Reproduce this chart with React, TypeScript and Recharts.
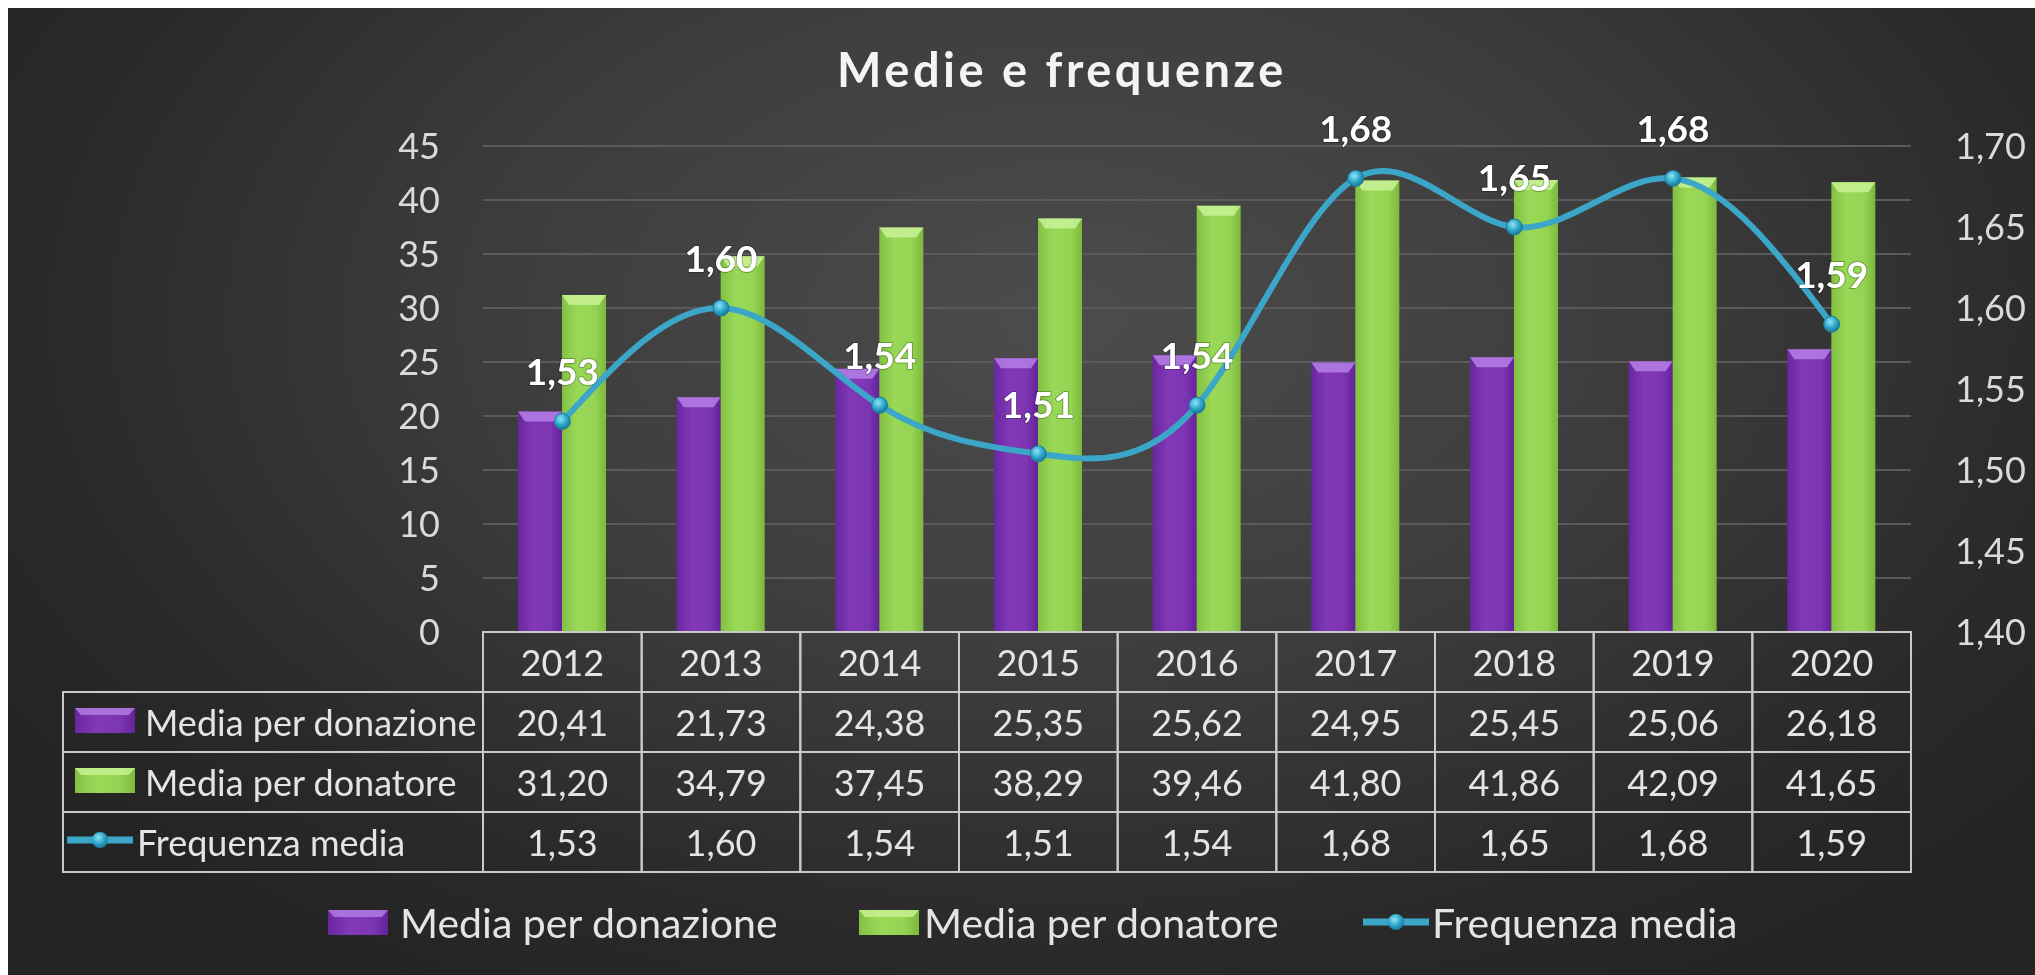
import { Bar, CartesianGrid, ComposedChart, LabelList, Line, XAxis, YAxis } from "recharts";

// dati
const years = ["2012", "2013", "2014", "2015", "2016", "2017", "2018", "2019", "2020"];
const mediaDonazione = [20.41, 21.73, 24.38, 25.35, 25.62, 24.95, 25.45, 25.06, 26.18];
const mediaDonatore = [31.2, 34.79, 37.45, 38.29, 39.46, 41.8, 41.86, 42.09, 41.65];
const frequenzaMedia = [1.53, 1.6, 1.54, 1.51, 1.54, 1.68, 1.65, 1.68, 1.59];
const leftTicks = [0, 5, 10, 15, 20, 25, 30, 35, 40, 45];
const rightTicks = [1.4, 1.45, 1.5, 1.55, 1.6, 1.65, 1.7];
const seriesNames = ["Media per donazione", "Media per donatore", "Frequenza media"];
const title = "Medie e frequenze";

// niente barre di scorrimento: il grafico riempie la finestra
if (typeof document !== "undefined") {
  document.documentElement.style.overflow = "hidden";
  document.body.style.overflow = "hidden";
}

const data = years.map((year, i) => ({
  year,
  donazione: mediaDonazione[i],
  donatore:  mediaDonatore[i],
  frequenza: frequenzaMedia[i],
}));

const W = 2027;
const H = 967;
const PLOT_L = 475;
const PLOT_R = 1903;
const PLOT_T = 138;
const PLOT_B = 624;
const COL_W = (PLOT_R - PLOT_L) / years.length;
const ROW_H = 60;
const LABEL_W = 420;
const FONT = "Lato, 'Open Sans', sans-serif";
const TXT = "#e4e4e4";
const BORDER = "#c9c9c9";
const LINE_C = "#3ba6c8";

const fmt = (v: number) => v.toFixed(2).replace(".", ",");

const rows = [mediaDonazione, mediaDonatore, frequenzaMedia];

function Swatch({ kind, x, y }: { kind: number; x: number; y: number }) {
  if (kind === 2) {
    return (
      <g>
        <line x1={x} x2={x + 66} y1={y} y2={y} stroke={LINE_C} strokeWidth={7} />
        <circle cx={x + 33} cy={y} r={8} fill="url(#gDot)" />
      </g>
    );
  }
  const fill = kind === 0 ? "url(#gPurple)" : "url(#gGreen)";
  const top = kind === 0 ? "#b57fe6" : "#c9f296";
  return (
    <g>
      <rect x={x} y={y - 12} width={60} height={25} fill={fill} />
      <polygon points={`${x},${y - 12} ${x + 60},${y - 12} ${x + 54},${y - 5} ${x + 6},${y - 5}`} fill={top} opacity={0.8} />
    </g>
  );
}

// ogni tick dell'asse X disegna una colonna della tabella dati
function TableColumn(props: any) {
  const { x, y, payload } = props;
  const i = payload.index;
  const left = x - COL_W / 2;
  const textStyle = { fontFamily: FONT, fontSize: 36, fill: TXT };
  return (
    <g>
      {[0, 1, 2, 3].map((r) => (
        <rect key={r} x={left} y={y + r * ROW_H} width={COL_W} height={ROW_H} fill="none" stroke={BORDER} strokeWidth={2} />
      ))}
      <text x={x} y={y + ROW_H / 2} textAnchor="middle" dominantBaseline="central" style={textStyle}>
        {payload.value}
      </text>
      {rows.map((vals, r) => (
        <text key={r} x={x} y={y + (r + 1) * ROW_H + ROW_H / 2} textAnchor="middle" dominantBaseline="central" style={textStyle}>
          {fmt(vals[i])}
        </text>
      ))}
      {i === 0 &&
        seriesNames.map((name, r) => (
          <g key={name}>
            <rect x={left - LABEL_W} y={y + (r + 1) * ROW_H} width={LABEL_W} height={ROW_H} fill="none" stroke={BORDER} strokeWidth={2} />
            <Swatch kind={r} x={left - LABEL_W + (r === 2 ? 4 : 12)} y={y + (r + 1) * ROW_H + ROW_H / 2 - 2} />
            <text x={left - LABEL_W + (r === 2 ? 74 : 82)} y={y + (r + 1) * ROW_H + ROW_H / 2} dominantBaseline="central" style={textStyle}>
              {name}
            </text>
          </g>
        ))}
    </g>
  );
}

const bevelBar = (fill: string, top: string) => (props: any) => {
  const { x, y, width, height } = props;
  if (!height || height <= 0) return null;
  const b = Math.min(10, height);
  return (
    <g>
      <rect x={x} y={y} width={width} height={height} fill={fill} />
      <polygon points={`${x},${y} ${x + width},${y} ${x + width - 7},${y + b} ${x + 7},${y + b}`} fill={top} opacity={0.85} />
    </g>
  );
};

const renderDot = (props: any) => {
  const { cx, cy, index } = props;
  return <circle key={index} cx={cx} cy={cy} r={8} fill="url(#gDot)" stroke="#1d7f9e" strokeWidth={1} />;
};

const renderLabel = (props: any) => {
  const { x, y, value, index } = props;
  return (
    <text key={index} x={x} y={y - 36} textAnchor="middle"
      style={{ fontFamily: FONT, fontSize: 37, fontWeight: 700, fill: "#ffffff", paintOrder: "stroke", stroke: "rgba(0,0,0,0.25)", strokeWidth: 2 }}>
      {fmt(value)}
    </text>
  );
};

export default function App() {
  const tickStyle = { fontFamily: FONT, fontSize: 36, fill: "#dadada" };
  const legendX = [[320, 392], [851, 916], [1355, 1424]];
  return (
    <div
      style={{
        position: "fixed",
        left: 8,
        top: 8,
        right: 0,
        bottom: 0,
        background: "radial-gradient(ellipse 62% 80% at 52% 32%, #4c4c4c 0%, #3d3d3d 45%, #2a2a2a 80%, #242424 100%)",
        overflow: "hidden",
      }}
    >
      <ComposedChart width={W} height={H} data={data} margin={{ top: PLOT_T, right: 0, bottom: 0, left: 0 }} barGap={0}>
        <defs>
          <linearGradient id="gPurple" x1="0" y1="0" x2="1" y2="0">
            <stop offset="0%" stopColor="#6a26a0" />
            <stop offset="35%" stopColor="#8139b8" />
            <stop offset="75%" stopColor="#7c35b3" />
            <stop offset="100%" stopColor="#642299" />
          </linearGradient>
          <linearGradient id="gGreen" x1="0" y1="0" x2="1" y2="0">
            <stop offset="0%" stopColor="#82c043" />
            <stop offset="35%" stopColor="#9ad957" />
            <stop offset="75%" stopColor="#95d352" />
            <stop offset="100%" stopColor="#7cb83d" />
          </linearGradient>
          <radialGradient id="gDot" cx="0.4" cy="0.35" r="0.7">
            <stop offset="0%" stopColor="#8fe4f8" />
            <stop offset="55%" stopColor="#2ea6c9" />
            <stop offset="100%" stopColor="#16708c" />
          </radialGradient>
        </defs>
        <CartesianGrid yAxisId="left" vertical={false} stroke="#5a5a5a" strokeWidth={2} />
        <XAxis dataKey="year" height={H - PLOT_B} interval={0} tickSize={0} tickMargin={0} axisLine={false} tickLine={false} tick={<TableColumn />} />
        <YAxis yAxisId="left" orientation="left" width={PLOT_L} domain={[0, 45]} ticks={leftTicks} axisLine={false} tickLine={false} tickSize={0} tickMargin={43} tick={tickStyle} />
        <YAxis yAxisId="right" orientation="right" width={W - PLOT_R} domain={[1.4, 1.7]} ticks={rightTicks} axisLine={false} tickLine={false} tickSize={0} tickMargin={44} tick={tickStyle} tickFormatter={fmt} />
        <Bar yAxisId="left" dataKey="donazione" name={seriesNames[0]} barSize={44} fill="url(#gPurple)" shape={bevelBar("url(#gPurple)", "#b57fe6")} isAnimationActive={false} />
        <Bar yAxisId="left" dataKey="donatore" name={seriesNames[1]} barSize={44} fill="url(#gGreen)" shape={bevelBar("url(#gGreen)", "#c9f296")} isAnimationActive={false} />
        <Line yAxisId="right" type="natural" dataKey="frequenza" name={seriesNames[2]} stroke={LINE_C} strokeWidth={6} dot={renderDot} activeDot={false} isAnimationActive={false}>
          <LabelList dataKey="frequenza" content={renderLabel} />
        </Line>
      </ComposedChart>
      <svg width={W} height={H} style={{ position: "absolute", left: 0, top: 0, pointerEvents: "none" }}>
        <text x={1054} y={79} textAnchor="middle"
          style={{ fontFamily: FONT, fontSize: 47, fontWeight: 700, letterSpacing: 3.5, fill: "#f4f4f4" }}>
          {title}
        </text>
        {seriesNames.map((name, i) => (
          <g key={name}>
            <Swatch kind={i} x={legendX[i][0]} y={914} />
            <text x={legendX[i][1]} y={914} dominantBaseline="central" style={{ fontFamily: FONT, fontSize: 41, fill: TXT }}>
              {name}
            </text>
          </g>
        ))}
      </svg>
    </div>
  );
}
